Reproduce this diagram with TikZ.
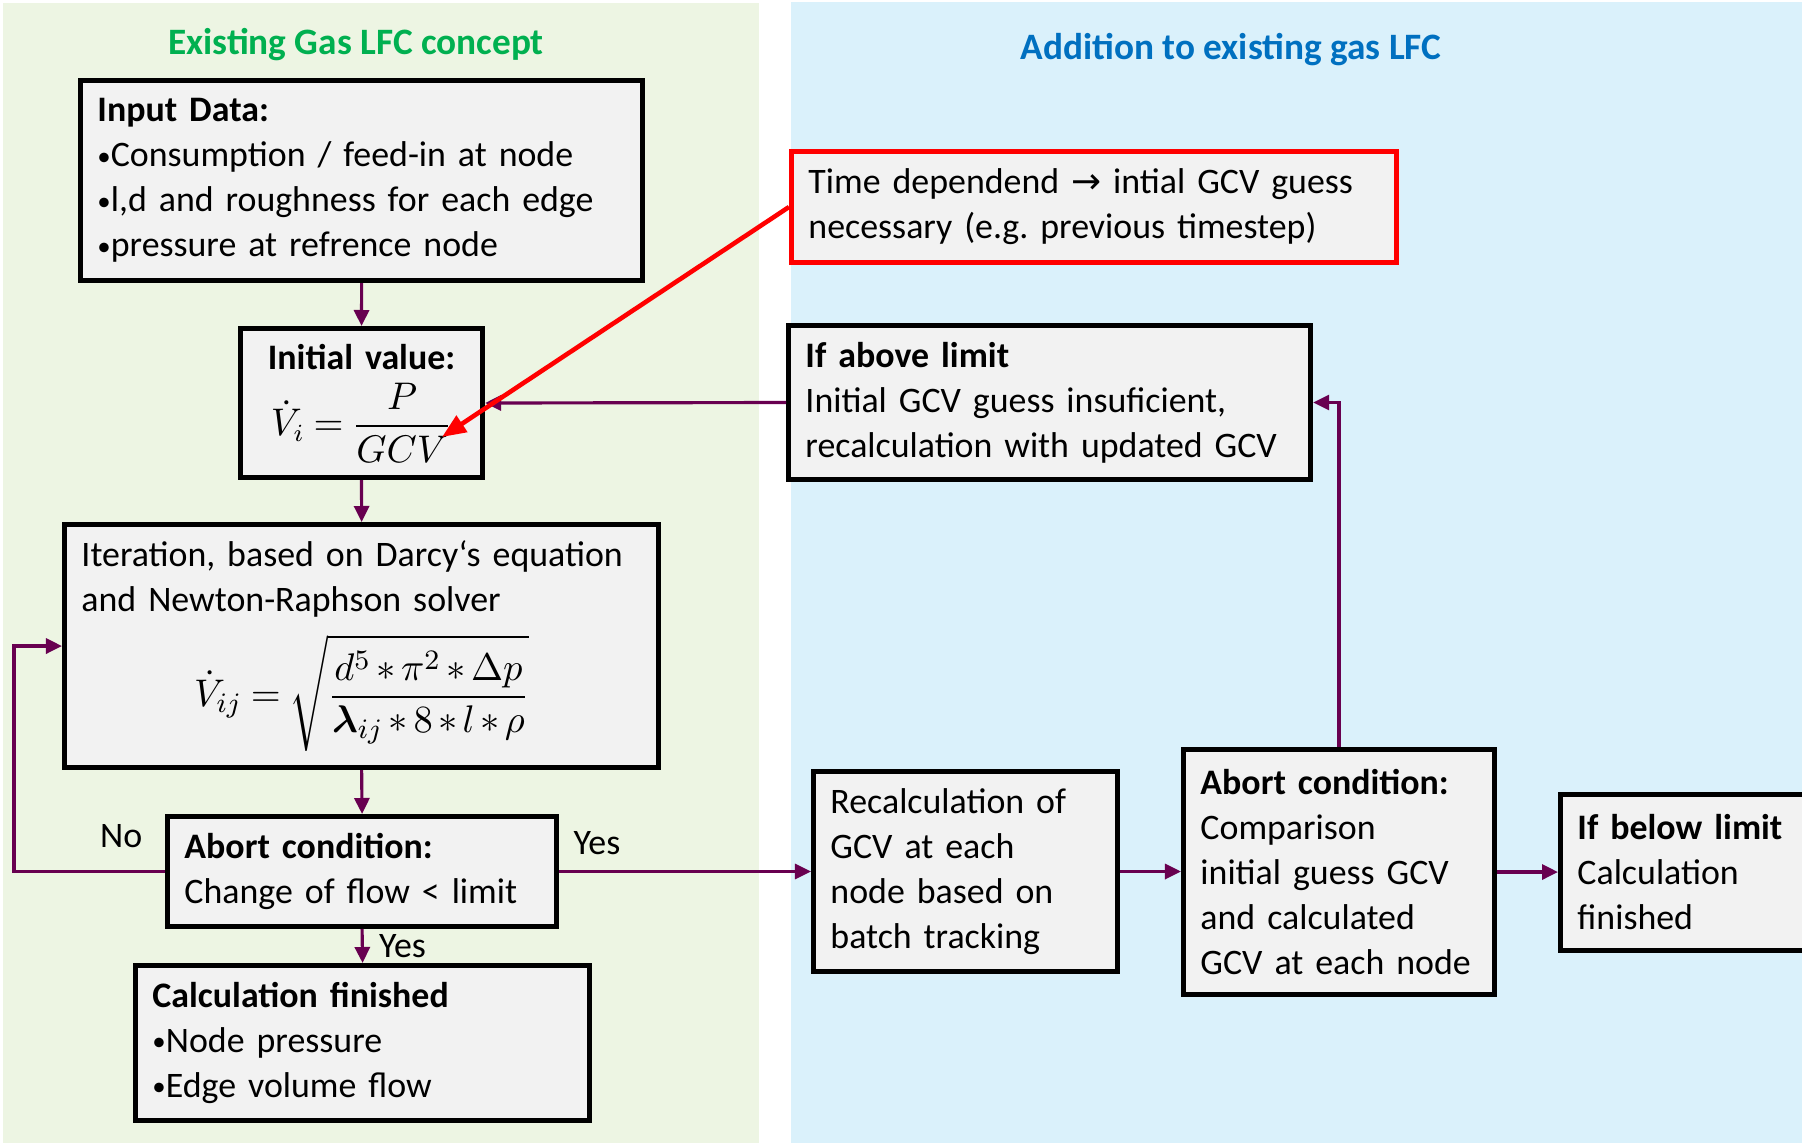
\documentclass[tikz,border=0pt]{standalone}
\usepackage{amsmath}
\usepackage{fontspec}
\setmainfont{Carlito}
\newfontfamily\arrowfont{DejaVu Sans}
\usetikzlibrary{arrows.meta,calc}

\definecolor{panelgreen}{HTML}{EDF5E3}
\definecolor{panelblue}{HTML}{DAF1FB}
\definecolor{boxgray}{HTML}{F2F2F2}
\definecolor{flowpurple}{HTML}{680050}
\definecolor{titlegreen}{HTML}{00B050}
\definecolor{titleblue}{HTML}{0070C0}

\newcommand{\bodyfont}{\fontsize{10.2}{12.8}\selectfont}
\newcommand{\mathsz}{\fontsize{11}{13}\selectfont}
\newcommand{\bul}{\raisebox{0.1ex}{\scalebox{0.75}{•}}}

\begin{document}
\frenchspacing
\begin{tikzpicture}[x=0.01cm, y=-0.01cm,
  every node/.style={font=\bodyfont},
  box/.style={draw=black, fill=boxgray, line width=1.4pt, rectangle,
    inner xsep=0.17cm, inner ysep=0.05cm, align=left, anchor=north west},
  flow/.style={draw=flowpurple, line width=0.9pt,
    -{Triangle[length=0.16cm, width=0.15cm]}},
  title/.style={font=\fontsize{10.6}{13}\selectfont\bfseries}
]
% page and the two panels
\useasboundingbox (0,0) rectangle (1802,1145);
\fill[white] (0,0) rectangle (1802,1145);
\fill[panelgreen] (3,3) rectangle (759,1143);
\fill[panelblue] (791,2) rectangle (1802,1143);

\node[title, text=titlegreen] (ttlA) at (356,45) {Existing Gas LFC concept};
\node[title, text=titleblue] (ttlB) at (1231,50) {Addition to existing gas LFC};

% existing load flow calculation
\node[box, minimum width=5.62cm, minimum height=2.00cm, text width=5.28cm] (input) at (78,78)
  {\textbf{Input Data:}\\
   \bul Consumption / feed-in at node\\
   \bul l,d and roughness for each edge\\
   \bul pressure at refrence node};

\node[box, minimum width=2.42cm, minimum height=1.49cm, text width=2.08cm, align=center] (init) at (238,326)
  {\textbf{Initial value:}\\[3pt]
   {\fontsize{10.6}{13}\selectfont\thickmuskip=4mu$\dot V_i = \dfrac{P}{GCV}$}};

\node[box, minimum width=5.94cm, minimum height=2.43cm, text width=5.60cm] (iter) at (62,522)
  {Iteration, based on Darcy‘s equation\\
   and Newton-Raphson solver\par\vspace{4pt}
   {\centering\mathsz\medmuskip=2.5mu\thickmuskip=4mu$\displaystyle \dot V_{ij} = \sqrt{\frac{d^5 \ast \pi^2 \ast \Delta p}{\boldsymbol{\lambda}_{ij} \ast 8 \ast l \ast \rho}}$\par}};

\node[box, minimum width=3.89cm, minimum height=1.10cm, text width=3.55cm] (abort) at (165,814)
  {\textbf{Abort condition:}\\
   Change of flow < limit};

\node[box, minimum width=4.54cm, minimum height=1.55cm, text width=4.20cm] (calc) at (133,963)
  {\textbf{Calculation finished}\\
   \bul Node pressure\\
   \bul Edge volume flow};

% additions for the calorific value
\node[box, draw=red, minimum width=6.05cm, minimum height=1.11cm, text width=5.71cm] (timedep) at (789,149)
  {Time dependend {\arrowfont →} intial GCV guess\\
   necessary (e.g. previous timestep)};

\node[box, minimum width=5.22cm, minimum height=1.54cm, text width=4.88cm] (above) at (786,323)
  {\textbf{If above limit}\\
   Initial GCV guess insuficient,\\
   recalculation with updated GCV};

\node[box, minimum width=3.04cm, minimum height=2.00cm, text width=2.70cm] (recalc) at (811,769)
  {Recalculation of\\
   GCV at each\\
   node based on\\
   batch tracking};

\node[box, minimum width=3.11cm, minimum height=2.45cm, text width=2.77cm] (abortB) at (1181,747)
  {\textbf{Abort condition:}\\
   Comparison\\
   initial guess GCV\\
   and calculated\\
   GCV at each node};

\node[box, minimum width=2.60cm, minimum height=1.56cm, text width=2.26cm] (below) at (1558,792)
  {\textbf{If below limit}\\
   Calculation\\
   finished};

\coordinate (gcvtip) at (442,437);

% connectors
\draw[flow] (input.south) -- (init.north);
\draw[flow] (init.south) -- (iter.north);
\draw[flow] (iter.south) -- (abort.north);
\draw[flow] (abort.south) -- node[right=1pt] {Yes} (calc.north);
\draw[flow] (abort.west) -- node[pos=0.29, above=3pt] {No} ++(-151,0) |- (iter.west);
\draw[flow] (abort.east) -- node[pos=0.15, above=1pt] {Yes} (abort.east -| recalc.west);
\draw[flow] (recalc.east) -- (recalc.east -| abortB.west);
\draw[flow] (abortB.east) -- (abortB.east -| below.west);
\draw[flow] (abortB.north) |- (above.east);
\draw[flow] (above.west) -- (init.east);
\draw[red, line width=1.3pt, -{Triangle[length=0.24cm, width=0.19cm]}] (timedep.west) -- (gcvtip);
\end{tikzpicture}
\end{document}
